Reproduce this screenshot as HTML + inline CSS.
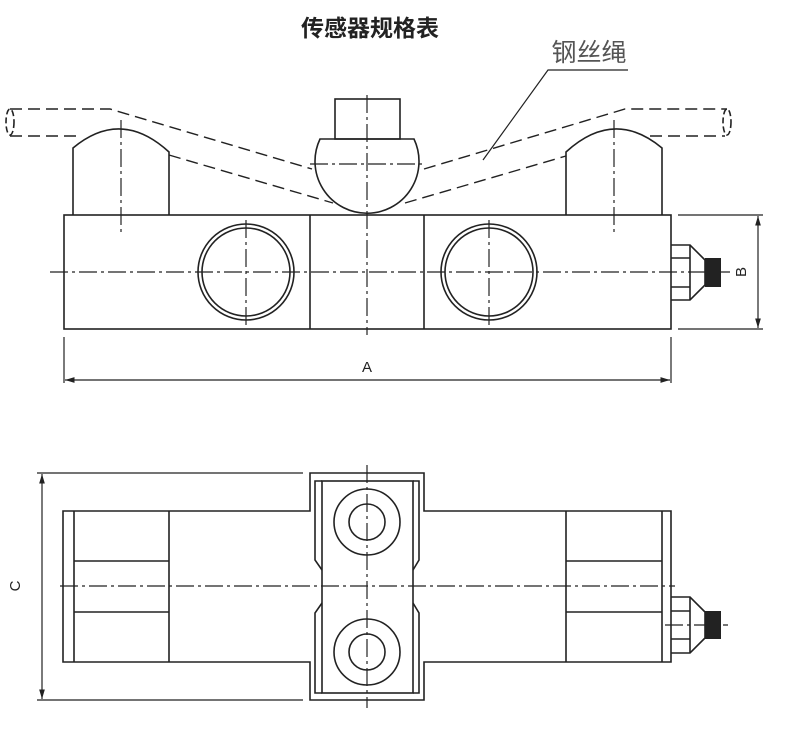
<!DOCTYPE html>
<html><head><meta charset="utf-8"><style>
html,body{margin:0;padding:0;background:#fff;}
svg{display:block;}
</style></head><body>
<svg width="800" height="736" viewBox="0 0 800 736" xmlns="http://www.w3.org/2000/svg">
<defs>
<marker id="ar" viewBox="0 0 10 10" refX="10" refY="5" markerWidth="8" markerHeight="8" orient="auto-start-reverse"><path d="M0,2 L10,5 L0,8 z" fill="#222"/></marker>
</defs>
<text x="370" y="36" text-anchor="middle" font-family="'Liberation Sans','Noto Sans CJK SC',sans-serif" font-size="23" font-weight="bold" fill="#222">传感器规格表</text>
<text x="589" y="61" text-anchor="middle" font-family="'Liberation Sans','Noto Sans CJK SC',sans-serif" font-size="25" fill="#555">钢丝绳</text>
<g fill="none" stroke="#222" stroke-width="1.6">
<polyline points="628,70 548,70 483,160" stroke-width="1.2"/>
<rect x="64" y="215" width="607" height="114"/>
<line x1="310" y1="215" x2="310" y2="329"/>
<line x1="424" y1="215" x2="424" y2="329"/>
<circle cx="246" cy="272" r="48"/><circle cx="246" cy="272" r="44"/>
<circle cx="489" cy="272" r="48"/><circle cx="489" cy="272" r="44"/>
<path d="M73,215 L73,148 Q121,108 169,152 L169,215"/>
<path d="M566,215 L566,152 Q614,108 662,148 L662,215"/>
<rect x="335" y="99" width="65" height="40"/>
<path d="M320,139 L414,139 A52,52 0 1,1 320,139 Z"/>
<path d="M671,245 L690,245 L705,260 L705,285 L690,300 L671,300"/>
<line x1="690" y1="245" x2="690" y2="300"/>
<line x1="671" y1="258" x2="690" y2="258"/><line x1="671" y1="287" x2="690" y2="287"/>
<g stroke-dasharray="12,6" stroke-width="1.4">
<polyline points="10,109 110,109 312,169"/>
<polyline points="10,136 82,136"/>
<polyline points="169,155 333,203"/>
<polyline points="424,169 625,109 727,109"/>
<polyline points="405,203 566,156"/>
<polyline points="650,136 725,136"/>
</g>
<ellipse cx="10" cy="122" rx="4" ry="13" stroke-dasharray="6,3"/>
<ellipse cx="727" cy="122" rx="4" ry="13" stroke-dasharray="6,3"/>
<g stroke-dasharray="18,4,3,4" stroke-width="1.2">
<line x1="50" y1="272" x2="730" y2="272"/>
<line x1="367" y1="95" x2="367" y2="335"/>
<line x1="121" y1="120" x2="121" y2="232"/>
<line x1="614" y1="120" x2="614" y2="232"/>
<line x1="246" y1="220" x2="246" y2="325"/>
<line x1="489" y1="220" x2="489" y2="325"/>
<line x1="310" y1="164" x2="425" y2="164"/>
</g>
<line x1="678" y1="215" x2="763" y2="215" stroke-width="1.2"/>
<line x1="678" y1="329" x2="763" y2="329" stroke-width="1.2"/>
<line x1="758" y1="216" x2="758" y2="328" stroke-width="1.2" marker-start="url(#ar)" marker-end="url(#ar)"/>
<line x1="64" y1="337" x2="64" y2="383" stroke-width="1.2"/>
<line x1="671" y1="337" x2="671" y2="383" stroke-width="1.2"/>
<line x1="65" y1="380" x2="670" y2="380" stroke-width="1.2" marker-start="url(#ar)" marker-end="url(#ar)"/>
<polygon points="63,511 310,511 310,473 424,473 424,511 671,511 671,662 424,662 424,700 310,700 310,662 63,662"/>
<line x1="74" y1="511" x2="74" y2="662"/>
<line x1="169" y1="511" x2="169" y2="662"/>
<line x1="74" y1="561" x2="169" y2="561"/><line x1="74" y1="612" x2="169" y2="612"/>
<line x1="566" y1="511" x2="566" y2="662"/>
<line x1="662" y1="511" x2="662" y2="662"/>
<line x1="566" y1="561" x2="662" y2="561"/><line x1="566" y1="612" x2="662" y2="612"/>
<polyline points="322,481 315,481 315,560 322,570"/>
<polyline points="322,603 315,613 315,693 322,693"/>
<rect x="322" y="481" width="91" height="212"/>
<polyline points="413,481 419,481 419,560 413,570"/>
<polyline points="413,603 419,613 419,693 413,693"/>
<circle cx="367" cy="522" r="33"/><circle cx="367" cy="522" r="18"/>
<circle cx="367" cy="652" r="33"/><circle cx="367" cy="652" r="18"/>
<path d="M671,597 L690,597 L705,612 L705,638 L690,653 L671,653"/>
<line x1="690" y1="597" x2="690" y2="653"/>
<line x1="671" y1="611" x2="690" y2="611"/><line x1="671" y1="639" x2="690" y2="639"/>
<g stroke-dasharray="18,4,3,4" stroke-width="1.2">
<line x1="60" y1="586" x2="675" y2="586"/>
<line x1="367" y1="465" x2="367" y2="708"/>
<line x1="665" y1="625" x2="728" y2="625"/>
</g>
<line x1="37" y1="473" x2="303" y2="473" stroke-width="1.2"/>
<line x1="37" y1="700" x2="303" y2="700" stroke-width="1.2"/>
<line x1="42" y1="474" x2="42" y2="699" stroke-width="1.2" marker-start="url(#ar)" marker-end="url(#ar)"/>
</g>
<rect x="705" y="258" width="16" height="29" fill="#222"/>
<rect x="705" y="611" width="16" height="28" fill="#222"/>
<text x="367" y="372" text-anchor="middle" font-family="'Liberation Sans',sans-serif" font-size="15" fill="#222">A</text>
<text transform="translate(746,272) rotate(-90)" text-anchor="middle" font-family="'Liberation Sans',sans-serif" font-size="15" fill="#222">B</text>
<text transform="translate(20,586) rotate(-90)" text-anchor="middle" font-family="'Liberation Sans',sans-serif" font-size="15" fill="#222">C</text>
</svg>
</body></html>
